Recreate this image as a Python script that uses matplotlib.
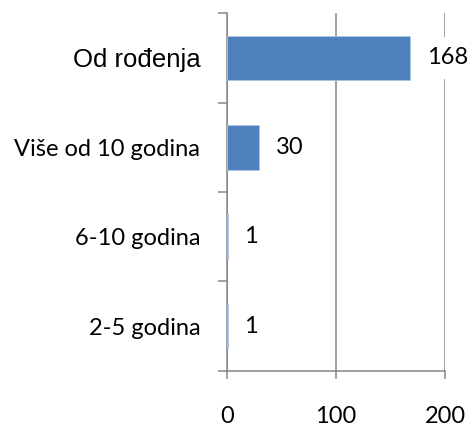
import matplotlib
matplotlib.use("Agg")
import matplotlib.pyplot as plt
import numpy as np

categories = ["2-5 godina", "6-10 godina", "Više od 10 godina", "Od rođenja"]
values = [1, 1, 30, 168]
xticks = [0, 100, 200]

GRAY = "#868686"
BLUE = "#4F81BD"

fig = plt.figure(figsize=(4.68, 4.25), dpi=100)
ax = fig.add_axes([0.4844, 0.1275, 0.951 - 0.4844, 0.9687 - 0.1275])

y = np.arange(len(categories))
bars = ax.barh(y, values, height=0.5, color=BLUE, edgecolor="#A9C4E6", linewidth=0.6, zorder=3)

ax.set_xlim(0, 200)
ax.set_ylim(-0.5, len(categories) - 0.5)
ax.set_xticks(xticks)
ax.set_xticklabels([str(t) for t in xticks], fontsize=17, family="Lato")
ax.grid(axis="x", color=GRAY, linewidth=1.1, zorder=0)
ax.set_axisbelow(True)

ax.set_yticks(y)
labels = ax.set_yticklabels(categories, fontsize=17, family="Lato")
labels[-1].set_family("Liberation Sans")
labels[-1].set_fontsize(18.5)
ax.set_yticks(np.arange(-0.5, len(categories), 1.0), minor=True)
ax.tick_params(axis="y", which="major", length=0, pad=19)
ax.tick_params(axis="y", which="minor", length=6.5, width=1.1, color=GRAY, direction="out")
ax.tick_params(axis="x", which="major", length=6, width=1.1, color=GRAY, direction="out", pad=19)

for s in ["top", "right"]:
    ax.spines[s].set_visible(False)
for s in ["left", "bottom"]:
    ax.spines[s].set_color(GRAY)
    ax.spines[s].set_linewidth(1.1)

for yi, v in zip(y, values):
    ax.annotate(str(v), xy=(v, yi), xytext=(12, 0), textcoords="offset points",
                ha="left", va="center", fontsize=17, family="Lato", zorder=4,
                bbox=dict(boxstyle="square,pad=0.45", fc="white", ec="none"))

fig.savefig("out.png", dpi=100)
